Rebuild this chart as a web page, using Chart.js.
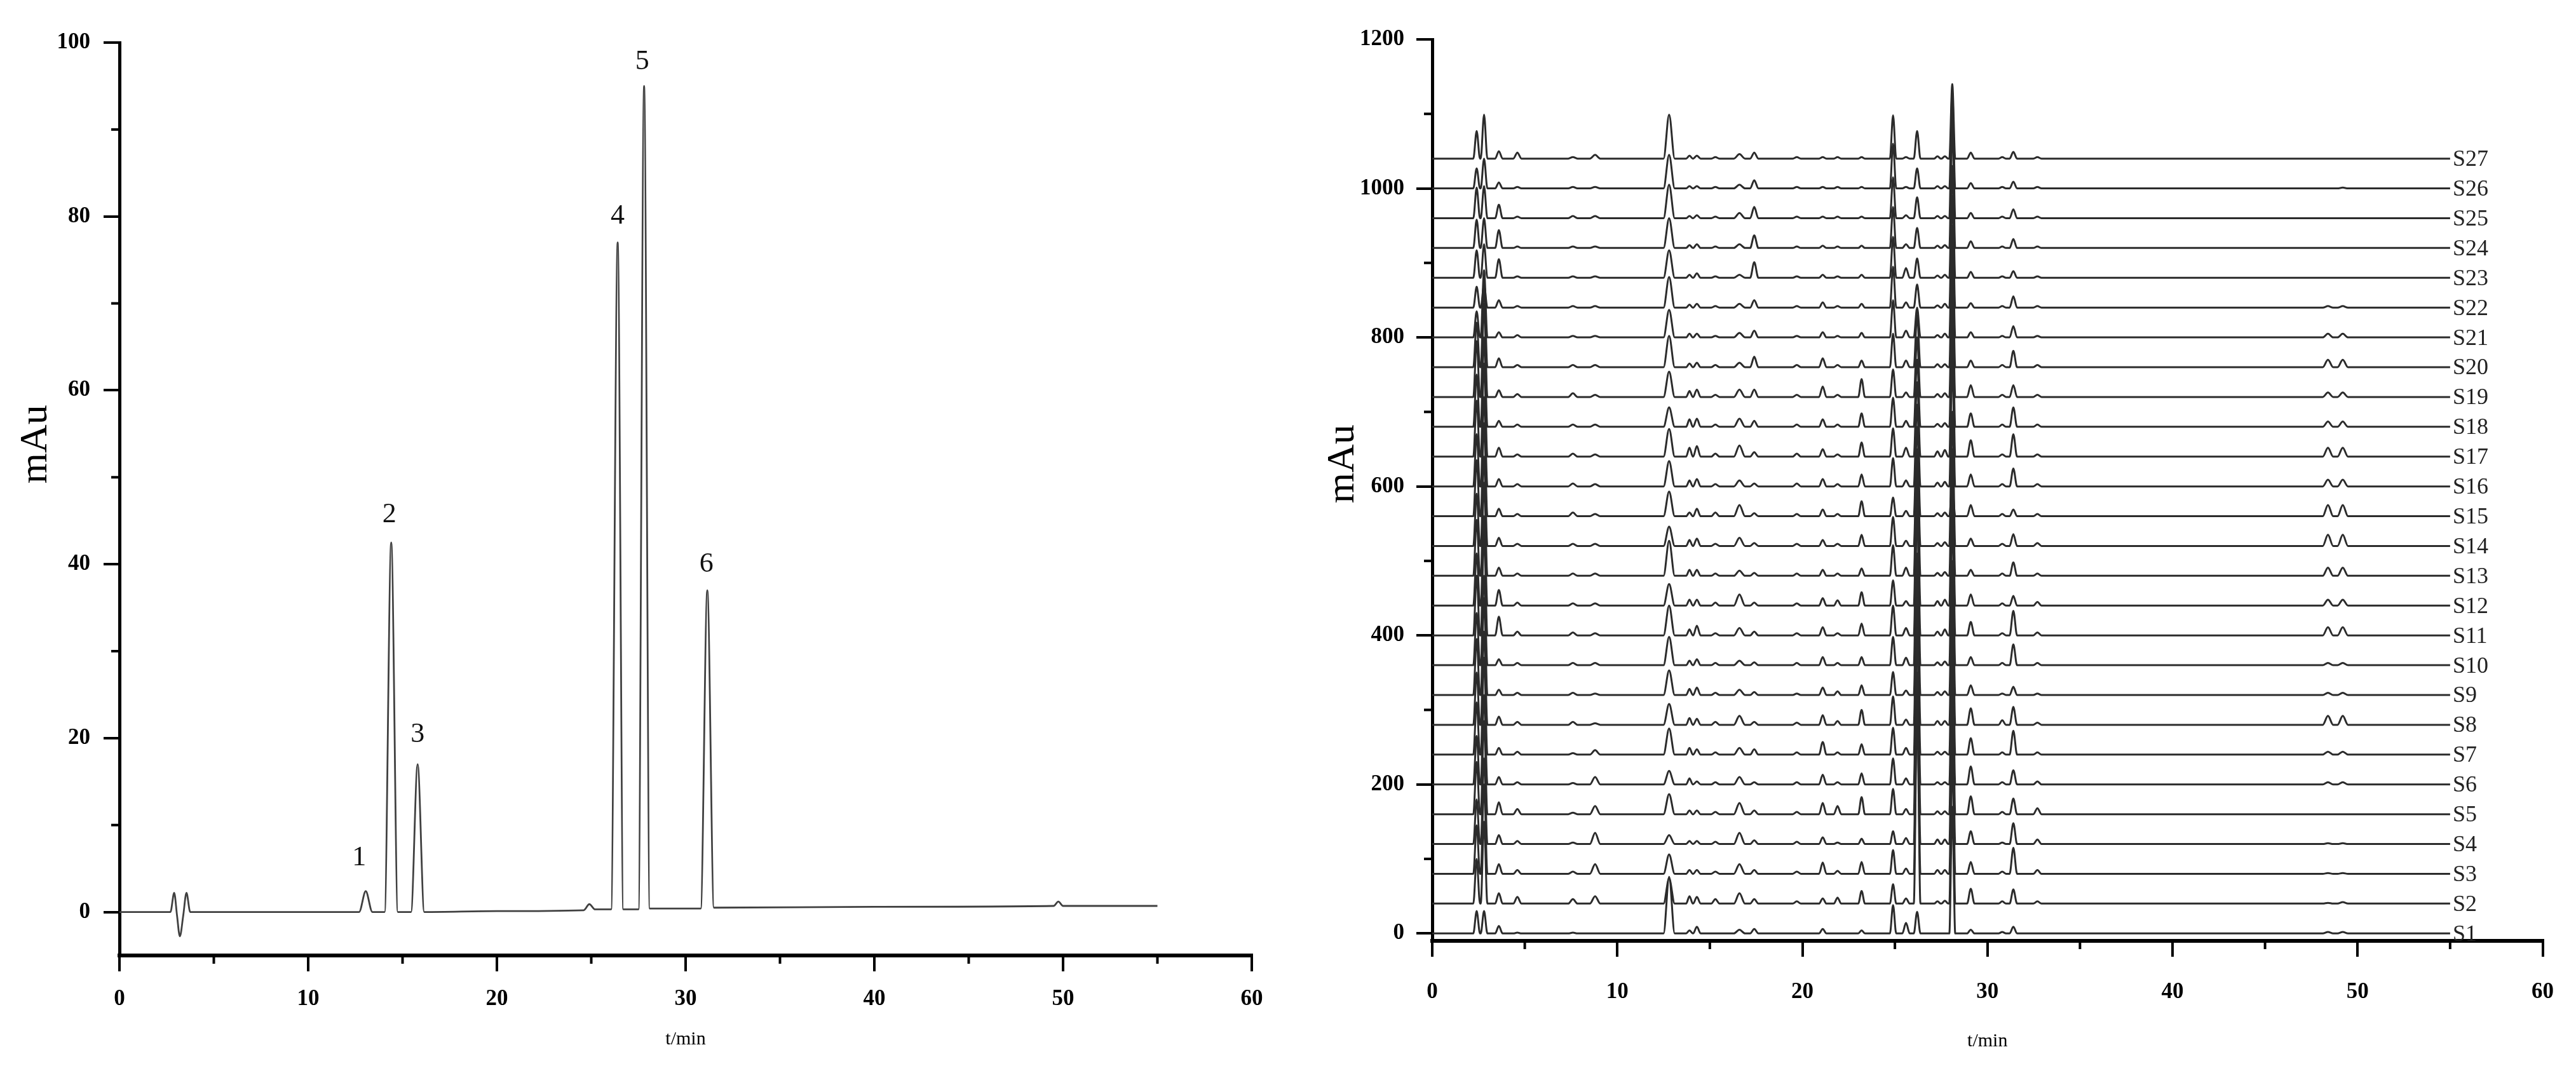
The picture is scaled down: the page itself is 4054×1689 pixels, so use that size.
<!DOCTYPE html>
<html>
<head>
<meta charset="utf-8">
<title>HPLC chromatograms</title>
<script src="https://cdn.jsdelivr.net/npm/chart.js@4.4.1/dist/chart.umd.min.js"></script>
<style>
  html, body { margin: 0; padding: 0; background: #fff; }
  body { width: 4054px; height: 1689px; position: relative; overflow: hidden; }
  canvas { position: absolute; top: 0; }
  #leftChart { left: 0; }
  #rightChart { left: 2027px; }
</style>
</head>
<body>
<canvas id="leftChart" width="2027" height="1689"></canvas>
<canvas id="rightChart" width="2027" height="1689"></canvas>
<script>
// Left panel: mixed reference standard, t/min vs mAu
const leftTimes  = [0, 2.7, 2.9, 3.05, 3.2, 3.38, 3.55, 3.75, 8, 12.7, 13.05, 13.4, 14.05, 14.4, 14.75,
                    15.45, 15.8, 16.15, 20, 24.6, 24.9, 25.2, 26.05, 26.4, 26.7, 27.5, 27.8, 28.1,
                    30.8, 31.15, 31.5, 40, 49.5, 49.75, 50, 55];
const leftValues = [0, 0, 2.2, -0.4, -2.8, -0.4, 2.2, 0, 0, 0, 2.4, 0, 0, 42.5, 0,
                    0, 17, 0, 0.1, 0.2, 0.9, 0.3, 0.3, 77, 0.3, 0.3, 95, 0.4,
                    0.4, 37, 0.5, 0.6, 0.7, 1.2, 0.7, 0.7];

// numbered peaks and where their numbers sit
const peakNames  = ['1', '2', '3', '4', '5', '6'];
const peakNameX  = [12.7, 14.3, 15.8, 26.4, 27.7, 31.1];
const peakNameY  = [6.2, 45.7, 20.4, 80, 97.8, 40];

const leftYTicks = [0, 20, 40, 60, 80, 100];
const leftYMinor = [10, 30, 50, 70, 90];
const xTicks = [0, 10, 20, 30, 40, 50, 60];
const xMinor = [5, 15, 25, 35, 45, 55];

// Right panel: 27 batches, stacked 40 mAu apart
const sampleNames = ['S1','S2','S3','S4','S5','S6','S7','S8','S9','S10','S11','S12','S13','S14',
                     'S15','S16','S17','S18','S19','S20','S21','S22','S23','S24','S25','S26','S27'];
const traceStep = 40;
const traceEnd = 55;
const rightYTicks = [0, 200, 400, 600, 800, 1000, 1200];
const rightYMinor = [100, 300, 500, 700, 900, 1100];

// retention times (min) of the common peaks and their half base widths (min)
const peakTimes      = [2.4, 2.8, 3.6, 4.6, 7.6, 8.8, 12.8, 13.9, 14.3, 15.3, 16.6, 17.4, 19.7, 21.1,
                        21.9, 23.2, 24.9, 25.6, 26.2, 27.3, 27.7, 28.1, 29.1, 30.8, 31.4, 32.7, 48.4, 49.2];
const peakHalfWidths = [0.18, 0.18, 0.2, 0.22, 0.25, 0.28, 0.3, 0.18, 0.2, 0.22, 0.3, 0.22, 0.22, 0.2,
                        0.2, 0.18, 0.17, 0.2, 0.18, 0.18, 0.18, 0.16, 0.2, 0.2, 0.2, 0.22, 0.28, 0.28];

// peak heights (mAu) per sample, same order as peakTimes
const s1  = [30, 30, 10, 1, 1, 0, 76, 4, 9, 0, 5, 6, 0, 6, 0, 4, 38, 14, 29, 0, 0, 170, 5, 2, 9, 0, 2, 2];
const s2  = [60, 110, 14, 9, 6, 10, 34, 10, 9, 6, 14, 6, 3, 7, 8, 17, 26, 7, 260, 3, 4, 200, 20, 3, 19, 3, 1, 2];
const s3  = [65, 120, 13, 5, 3, 13, 26, 5, 5, 3, 13, 5, 3, 15, 4, 16, 32, 7, 240, 5, 5, 190, 16, 3, 35, 5, 1, 1];
const s4  = [60, 115, 12, 4, 2, 15, 12, 4, 4, 3, 15, 5, 3, 9, 2, 7, 17, 8, 230, 6, 6, 200, 17, 2, 28, 6, 1, 1];
const s5  = [70, 125, 16, 7, 2, 11, 27, 5, 5, 3, 15, 5, 3, 15, 11, 23, 34, 7, 250, 4, 4, 210, 24, 3, 21, 8, 0, 0];
const s6  = [65, 120, 10, 3, 2, 10, 18, 8, 4, 3, 10, 3, 3, 13, 3, 15, 35, 8, 220, 3, 3, 190, 24, 3, 19, 4, 3, 3];
const s7  = [70, 130, 9, 4, 2, 6, 35, 9, 7, 3, 9, 7, 3, 17, 3, 14, 36, 9, 210, 4, 4, 200, 22, 3, 32, 3, 4, 4];
const s8  = [70, 125, 11, 4, 4, 2, 28, 9, 8, 4, 12, 4, 3, 13, 5, 20, 38, 7, 200, 5, 5, 190, 22, 6, 24, 3, 12, 12];
const s9  = [75, 130, 7, 3, 3, 2, 33, 8, 10, 3, 7, 4, 2, 10, 5, 13, 31, 6, 190, 4, 5, 180, 13, 2, 11, 2, 3, 3];
const s10 = [70, 120, 8, 3, 3, 3, 38, 6, 8, 3, 6, 4, 3, 11, 3, 11, 38, 10, 210, 4, 5, 200, 11, 3, 28, 3, 3, 3];
const s11 = [80, 135, 25, 5, 4, 3, 40, 8, 13, 3, 10, 5, 3, 11, 3, 16, 40, 10, 180, 5, 8, 190, 18, 3, 33, 4, 11, 11];
const s12 = [70, 120, 21, 4, 3, 3, 29, 8, 8, 4, 15, 4, 3, 10, 7, 18, 34, 6, 170, 6, 8, 180, 15, 3, 13, 5, 8, 8];
const s13 = [75, 125, 11, 3, 3, 3, 47, 8, 8, 3, 7, 4, 3, 8, 3, 10, 41, 11, 160, 4, 5, 170, 8, 3, 18, 3, 11, 11];
const s14 = [70, 120, 11, 3, 3, 3, 26, 8, 10, 3, 11, 4, 3, 8, 3, 15, 39, 7, 130, 4, 5, 180, 10, 3, 16, 4, 15, 15];
const s15 = [75, 125, 10, 3, 5, 3, 33, 5, 10, 5, 15, 4, 3, 9, 3, 20, 25, 7, 120, 4, 5, 40, 15, 3, 9, 3, 15, 15];
const s16 = [70, 120, 10, 3, 4, 3, 34, 8, 10, 3, 8, 4, 4, 10, 3, 16, 38, 8, 110, 5, 6, 170, 16, 3, 24, 3, 9, 9];
const s17 = [75, 125, 12, 3, 4, 3, 37, 12, 14, 4, 15, 6, 4, 10, 3, 19, 38, 12, 100, 7, 9, 170, 22, 3, 30, 3, 12, 12];
const s18 = [70, 120, 8, 3, 3, 3, 26, 10, 11, 3, 11, 8, 3, 10, 3, 18, 39, 8, 90, 4, 5, 160, 18, 3, 26, 3, 7, 7];
const s19 = [75, 125, 9, 4, 5, 3, 34, 8, 10, 3, 10, 10, 3, 14, 3, 24, 37, 6, 80, 4, 5, 160, 16, 3, 16, 3, 6, 6];
const s20 = [60, 110, 12, 3, 3, 3, 42, 5, 6, 3, 6, 14, 3, 12, 3, 9, 45, 9, 70, 4, 4, 160, 9, 3, 22, 3, 10, 10];
const s21 = [35, 90, 7, 3, 2, 2, 37, 5, 5, 2, 6, 9, 2, 7, 2, 6, 50, 9, 40, 3, 5, 150, 7, 2, 15, 2, 5, 5];
const s22 = [28, 30, 10, 2, 2, 2, 41, 4, 5, 2, 5, 10, 2, 7, 2, 5, 55, 7, 31, 3, 5, 150, 6, 2, 15, 2, 2, 2];
const s23 = [37, 45, 25, 2, 2, 2, 37, 4, 6, 2, 4, 21, 2, 4, 2, 4, 55, 13, 26, 3, 4, 150, 8, 2, 9, 2, 0, 0];
const s24 = [38, 40, 24, 2, 2, 2, 40, 4, 5, 2, 5, 17, 2, 3, 2, 3, 55, 5, 27, 3, 4, 170, 9, 2, 12, 2, 0, 0];
const s25 = [41, 43, 18, 2, 3, 3, 45, 3, 4, 2, 7, 15, 2, 2, 2, 2, 55, 4, 28, 3, 3, 160, 7, 2, 12, 2, 0, 0];
const s26 = [27, 40, 8, 2, 2, 2, 45, 3, 3, 2, 5, 11, 2, 2, 2, 2, 60, 2, 27, 3, 3, 130, 7, 2, 9, 2, 0, 1];
const s27 = [37, 59, 10, 8, 2, 5, 59, 4, 4, 2, 6, 8, 2, 2, 2, 2, 58, 2, 37, 3, 3, 100, 8, 2, 9, 2, 0, 0];
const sampleHeights = [s1, s2, s3, s4, s5, s6, s7, s8, s9, s10, s11, s12, s13, s14,
                       s15, s16, s17, s18, s19, s20, s21, s22, s23, s24, s25, s26, s27];

const serif = '"Liberation Serif", "Times New Roman", serif';
const tickFont = { family: serif, size: 35, weight: 'bold' };

// flat baseline with a peak (foot, apex, foot) at every retention time
function traceData(heights, offset) {
    const pts = [{ x: 0, y: offset }];
    let lastX = 0;
    peakTimes.forEach((t, k) => {
        const h = heights[k];
        if (!h) return;
        const w = peakHalfWidths[k];
        if (t - w > lastX) pts.push({ x: t - w, y: offset });
        pts.push({ x: t, y: offset + h });
        pts.push({ x: t + w, y: offset });
        lastX = t + w;
    });
    pts.push({ x: traceEnd, y: offset });
    return pts;
}

// short ticks between the labelled ones
const minorTicks = {
    id: 'minorTicks',
    afterDraw(chart, args, opts) {
        const { ctx, chartArea, scales } = chart;
        ctx.save();
        ctx.strokeStyle = '#000';
        ctx.lineWidth = 4;
        opts.x.forEach(v => {
            const px = scales.x.getPixelForValue(v);
            ctx.beginPath();
            ctx.moveTo(px, chartArea.bottom);
            ctx.lineTo(px, chartArea.bottom + opts.length);
            ctx.stroke();
        });
        opts.y.forEach(v => {
            const py = scales.y.getPixelForValue(v);
            ctx.beginPath();
            ctx.moveTo(chartArea.left, py);
            ctx.lineTo(chartArea.left - opts.length, py);
            ctx.stroke();
        });
        ctx.restore();
    }
};

// rotated y title, not centred on the axis in the original
const yTitle = {
    id: 'yTitle',
    afterDraw(chart, args, opts) {
        const { ctx, chartArea } = chart;
        ctx.save();
        ctx.translate(opts.x, chartArea.top + opts.frac * (chartArea.bottom - chartArea.top));
        ctx.rotate(-Math.PI / 2);
        ctx.font = '62px ' + serif;
        ctx.fillStyle = '#000';
        ctx.textAlign = 'center';
        ctx.textBaseline = 'middle';
        ctx.fillText(opts.text, 0, 0);
        ctx.restore();
    }
};

const peakNumbers = {
    id: 'peakNumbers',
    afterDatasetsDraw(chart) {
        const { ctx, scales } = chart;
        ctx.save();
        ctx.font = '44px ' + serif;
        ctx.fillStyle = '#111';
        ctx.textAlign = 'center';
        ctx.textBaseline = 'middle';
        peakNames.forEach((name, i) => {
            ctx.fillText(name, scales.x.getPixelForValue(peakNameX[i]), scales.y.getPixelForValue(peakNameY[i]));
        });
        ctx.restore();
    }
};

const sampleTags = {
    id: 'sampleTags',
    afterDatasetsDraw(chart) {
        const { ctx, scales } = chart;
        ctx.save();
        ctx.font = '36px ' + serif;
        ctx.fillStyle = '#222';
        ctx.textAlign = 'left';
        ctx.textBaseline = 'middle';
        sampleNames.forEach((name, i) => {
            ctx.fillText(name, scales.x.getPixelForValue(traceEnd) + 4, scales.y.getPixelForValue(i * traceStep) + 2);
        });
        ctx.restore();
    }
};

function xAxis(boxHeight, labelPad, titlePad) {
    return {
        type: 'linear', min: 0, max: 60,
        afterBuildTicks: s => { s.ticks = xTicks.map(v => ({ value: v })); },
        afterFit: s => { s.height = boxHeight; },
        grid: { display: true, drawOnChartArea: false, tickLength: 25, lineWidth: 4, color: '#000' },
        border: { display: true, color: '#000', width: 6 },
        ticks: { font: tickFont, color: '#000', padding: labelPad, maxRotation: 0, callback: v => String(v) },
        title: { display: true, text: 't/min', color: '#000', font: { family: serif, size: 30 },
                 padding: { top: 0, bottom: titlePad } }
    };
}

function yAxis(min, max, ticks, boxWidth, labelPad) {
    return {
        type: 'linear', min: min, max: max,
        afterBuildTicks: s => { s.ticks = ticks.map(v => ({ value: v })); },
        afterFit: s => { s.width = boxWidth; },
        grid: { display: true, drawOnChartArea: false, tickLength: 25, lineWidth: 4, color: '#000' },
        border: { display: true, color: '#000', width: 5 },
        ticks: { font: tickFont, color: '#000', padding: labelPad, callback: v => String(v) }
    };
}

new Chart(document.getElementById('leftChart'), {
    type: 'line',
    data: {
        datasets: [{
            data: leftTimes.map((t, i) => ({ x: t, y: leftValues[i] })),
            borderColor: '#404040',
            borderWidth: 2.8,
            pointRadius: 0,
            cubicInterpolationMode: 'monotone',
            fill: false
        }]
    },
    options: {
        responsive: false,
        animation: false,
        layout: { padding: { top: 67, right: 57 } },
        plugins: {
            legend: { display: false },
            tooltip: { enabled: false },
            minorTicks: { x: xMinor, y: leftYMinor, length: 13 },
            yTitle: { text: 'mAu', x: 57, frac: 0.44 }
        },
        scales: {
            x: xAxis(185, 23, 35),
            y: yAxis(-5, 100, leftYTicks, 188, 21)
        }
    },
    plugins: [minorTicks, yTitle, peakNumbers]
});

new Chart(document.getElementById('rightChart'), {
    type: 'line',
    data: {
        datasets: sampleHeights.map((h, i) => ({
            label: sampleNames[i],
            data: traceData(h, i * traceStep),
            borderColor: '#2b2b2b',
            borderWidth: 3,
            pointRadius: 0,
            cubicInterpolationMode: 'monotone',
            fill: false
        }))
    },
    options: {
        responsive: false,
        animation: false,
        layout: { padding: { top: 62, right: 52 } },
        plugins: {
            legend: { display: false },
            tooltip: { enabled: false },
            minorTicks: { x: xMinor, y: rightYMinor, length: 13 },
            yTitle: { text: 'mAu', x: 87, frac: 0.471 }
        },
        scales: {
            x: xAxis(208, 35, 32),
            y: yAxis(-10, 1200, rightYTicks, 227, 19)
        }
    },
    plugins: [minorTicks, yTitle, sampleTags]
});
</script>
</body>
</html>
